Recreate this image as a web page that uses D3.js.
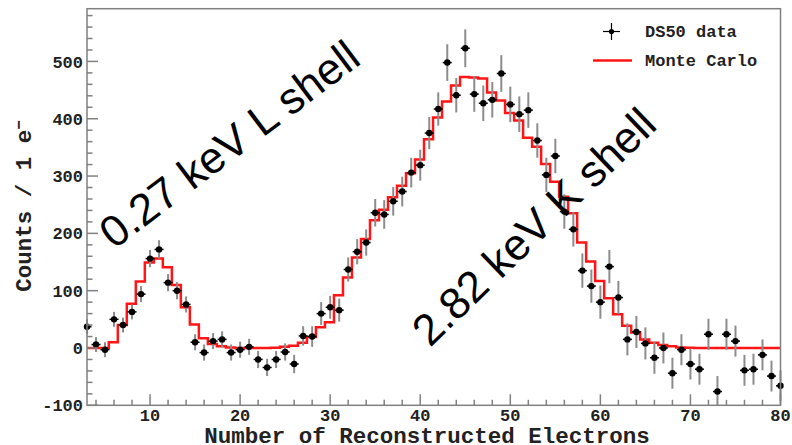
<!DOCTYPE html>
<html lang="en">
<head>
<meta charset="utf-8">
<title>DS50 electron spectrum</title>
<script src="https://cdn.jsdelivr.net/npm/d3@7"></script>
<style>
  body { margin: 0; background: #fff; }
  svg text { fill: #222; }
  .tick-label { font-family: "Liberation Mono", "DejaVu Sans Mono", monospace; font-weight: bold; font-size: 17px; }
  .axis-title { font-family: "Liberation Mono", "DejaVu Sans Mono", monospace; font-weight: bold; font-size: 22.5px; }
  .legend { font-family: "Liberation Mono", "DejaVu Sans Mono", monospace; font-weight: bold; font-size: 17px; }
  .note { font-family: "Liberation Sans", Arial, sans-serif; font-size: 44px; fill: #000; }
</style>
</head>
<body>
<div id="chart"></div>
<script>
// bin centres (number of reconstructed electrons)
var bins = d3.range(3, 81)

// DS50 data, counts per bin
var counts = [37, 6, -3, 50, 40, 63, 94, 156, 172, 114,
  100, 76, 10, -8, 12, 15, -8, -3, 2, -20,
  -34, -20, -7, -28, 21, 20, 60, 71, 66, 137,
  168, 184, 236, 233, 256, 273, 306, 319, 375, 417,
  498, 441, 523, 443, 427, 433, 479, 425, 408, 415,
  362, 302, 335, 238, 207, 135, 108, 80, 142, 88,
  15, 28, 8, -17, 0, -44, -3, -28, -37, 24,
  -76, 24, 12, -39, -37, -12, -49, -66]

// half length of the error bars
var errs = [13, 13, 13, 13, 13, 13, 14, 15, 16, 15,
  15, 14, 14, 14, 14, 14, 14, 14, 14, 15,
  15, 15, 15, 16, 17, 18, 20, 20, 20, 21,
  22, 23, 24, 25, 25, 26, 26, 27, 28, 29,
  32, 30, 33, 31, 31, 31, 32, 31, 31, 31,
  30, 30, 30, 30, 30, 30, 29, 29, 29, 29,
  28, 28, 28, 28, 27, 27, 27, 27, 27, 27,
  27, 27, 27, 27, 27, 27, 27, 27]

// Monte Carlo histogram, same bins
var mc = [0, 0, 0, 10, 40, 77, 116, 149, 156, 141,
  110, 71, 41, 17, 7, 3, 1, 0, 0, 0,
  0, 0.5, 2, 4, 9, 19, 36, 45, 92, 123,
  158, 190, 223, 241, 263, 283, 305, 329, 364, 402,
  430, 458, 473, 472, 470, 446, 432, 410, 397, 367,
  351, 321, 290, 264, 235, 184, 151, 117, 87, 59,
  39, 27, 15, 9, 5, 3, 1, 0.5, 0, 0,
  0, 0, 0, 0, 0, 0, 0, 0]

var yTicks = [-100, 0, 100, 200, 300, 400, 500]
var xTicks = [10, 20, 30, 40, 50, 60, 70, 80]
var legendItems = ["DS50 data", "Monte Carlo"]
var notes = ["0.27 keV L shell", "2.82 keV K shell"]

var W = 792, H = 445
var plotL = 87, plotR = 780.5, plotT = 8.7, plotB = 405.3

var svg = d3.select("#chart").append("svg").attr("width", W).attr("height", H)

var x = d3.scaleLinear().domain([3, 80]).range([plotL, plotR])
var y = d3.scaleLinear().domain([-100, 592]).range([plotB, plotT])

// MC step line, bins sit slightly left of the data points
var mcShift = -0.08
var steps = []
mc.forEach(function(v, i) {
  var lo = Math.max(bins[i] - 0.5 + mcShift, 3)
  var hi = Math.min(bins[i] + 0.5 + mcShift, 80)
  steps.push([lo, v])
  steps.push([hi, v])
})
var line = d3.line().x(function(d){ return x(d[0]) }).y(function(d){ return y(d[1]) })

svg.append("path")
  .attr("d", line(steps))
  .attr("fill", "none")
  .attr("stroke", "#ff1515")
  .attr("stroke-width", 2.5)

// data points
var pts = svg.append("g").selectAll("g")
  .data(bins)
  .enter()
  .append("g")

pts.append("line")
  .attr("x1", function(d){ return x(d) })
  .attr("x2", function(d){ return x(d) })
  .attr("y1", function(d, i){ return Math.min(y(counts[i] - errs[i]), plotB) })
  .attr("y2", function(d, i){ return y(counts[i] + errs[i]) })
  .attr("stroke", "#8c8c8c")
  .attr("stroke-width", 2)

pts.append("line")
  .attr("x1", function(d){ return Math.max(x(d) - 4.5, plotL) })
  .attr("x2", function(d){ return Math.min(x(d) + 4.5, plotR) })
  .attr("y1", function(d, i){ return y(counts[i]) })
  .attr("y2", function(d, i){ return y(counts[i]) })
  .attr("stroke", "#000")
  .attr("stroke-width", 1.5)

pts.append("circle")
  .attr("cx", function(d){ return x(d) })
  .attr("cy", function(d, i){ return y(counts[i]) })
  .attr("r", 3.2)
  .attr("fill", "#000")

// frame
svg.append("rect")
  .attr("x", plotL).attr("y", plotT)
  .attr("width", plotR - plotL).attr("height", plotB - plotT)
  .attr("fill", "none")
  .attr("stroke", "#808080")
  .attr("stroke-width", 1.5)

// y axis ticks
var yMinor = d3.range(-100, 592, 20)
svg.append("g").selectAll("line")
  .data(yMinor)
  .enter()
  .append("line")
  .attr("x1", plotL)
  .attr("x2", function(d){ return yTicks.indexOf(d) >= 0 ? plotL + 11 : plotL + 5.5 })
  .attr("y1", function(d){ return y(d) })
  .attr("y2", function(d){ return y(d) })
  .attr("stroke", "#808080")
  .attr("stroke-width", 1.5)

svg.append("g").selectAll("text")
  .data(yTicks)
  .enter()
  .append("text")
  .attr("class", "tick-label")
  .attr("x", 83)
  .attr("y", function(d){ return y(d) })
  .attr("dy", "0.36em")
  .attr("text-anchor", "end")
  .text(function(d){ return d })

// x axis ticks
var xMinor = d3.range(4, 81, 2)
svg.append("g").selectAll("line")
  .data(xMinor)
  .enter()
  .append("line")
  .attr("x1", function(d){ return x(d) })
  .attr("x2", function(d){ return x(d) })
  .attr("y1", plotB)
  .attr("y2", function(d){ return xTicks.indexOf(d) >= 0 ? plotB - 11 : plotB - 5.5 })
  .attr("stroke", "#808080")
  .attr("stroke-width", 1.5)

svg.append("g").selectAll("text")
  .data(xTicks)
  .enter()
  .append("text")
  .attr("class", "tick-label")
  .attr("x", function(d){ return x(d) })
  .attr("y", 421)
  .attr("text-anchor", "middle")
  .text(function(d){ return d })

// axis titles
svg.append("text")
  .attr("class", "axis-title")
  .attr("x", 427)
  .attr("y", 443)
  .attr("text-anchor", "middle")
  .text("Number of Reconstructed Electrons")

var yt = svg.append("text")
  .attr("class", "axis-title")
  .attr("transform", "translate(31,206) rotate(-90)")
  .attr("text-anchor", "middle")
yt.append("tspan").text("Counts / 1 e")
yt.append("tspan").attr("dy", "-0.45em").attr("font-size", "16px").text("\u2212")

// legend
var lg = svg.append("g")
lg.append("line").attr("x1", 603).attr("x2", 620).attr("y1", 31.5).attr("y2", 31.5)
  .attr("stroke", "#000").attr("stroke-width", 1.2)
lg.append("line").attr("x1", 611.5).attr("x2", 611.5).attr("y1", 23).attr("y2", 40)
  .attr("stroke", "#000").attr("stroke-width", 1.2)
lg.append("circle").attr("cx", 611.5).attr("cy", 31.5).attr("r", 2.6).attr("fill", "#000")
lg.append("line").attr("x1", 593).attr("x2", 632).attr("y1", 60.5).attr("y2", 60.5)
  .attr("stroke", "#ff1515").attr("stroke-width", 2.5)
lg.selectAll("text")
  .data(legendItems)
  .enter()
  .append("text")
  .attr("class", "legend")
  .attr("x", 645)
  .attr("y", function(d, i){ return 37 + i * 29 })
  .text(function(d){ return d })

// big annotations
svg.append("text")
  .attr("class", "note")
  .attr("transform", "translate(114,250) rotate(-37)")
  .text(notes[0])

svg.append("text")
  .attr("class", "note")
  .attr("transform", "translate(430,348) rotate(-44)")
  .text(notes[1])
</script>
</body>
</html>
